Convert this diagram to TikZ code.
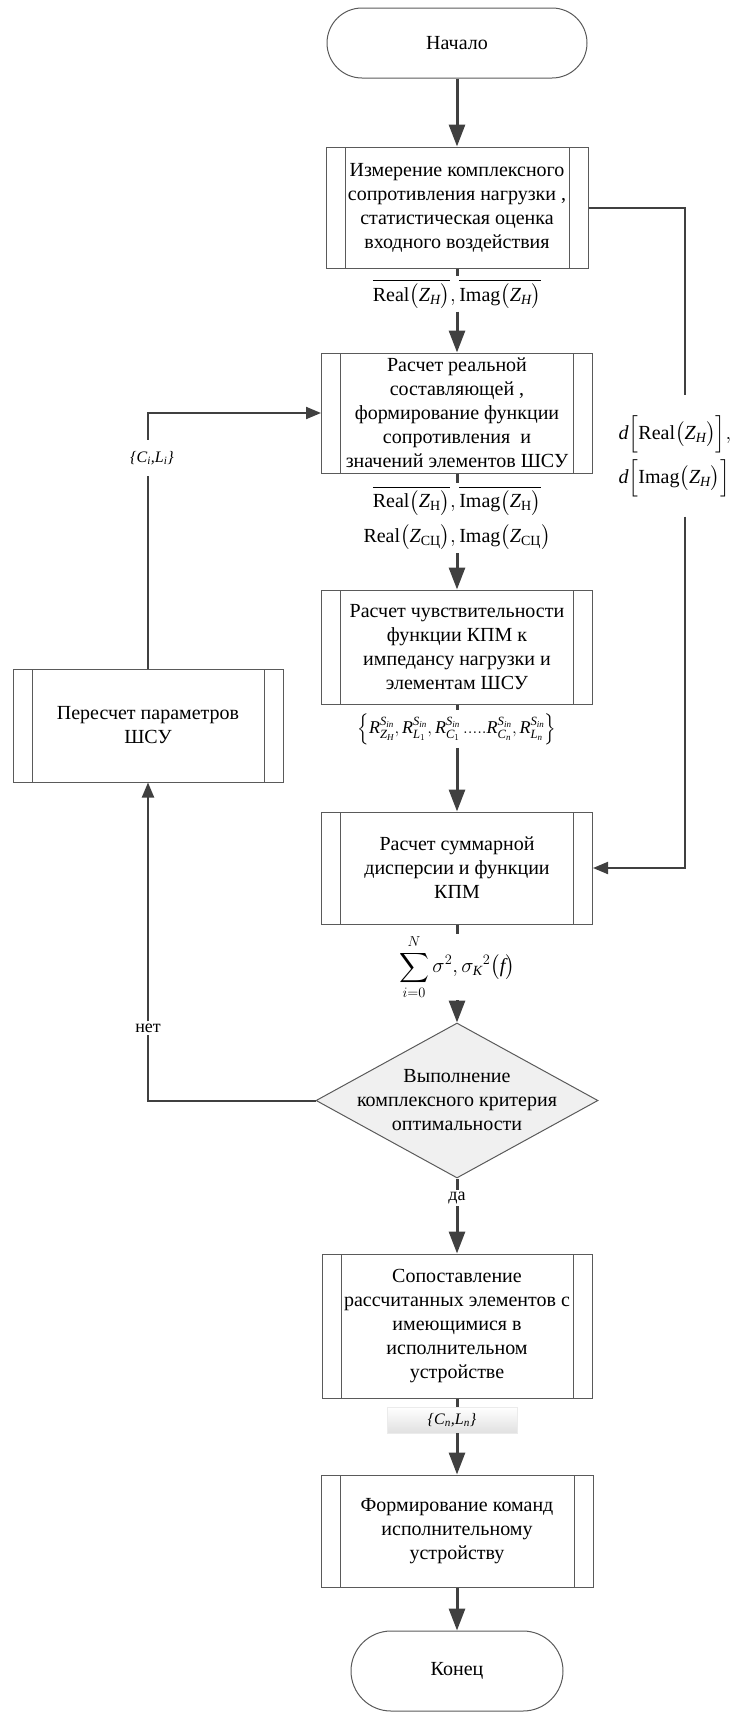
\documentclass[tikz,border=0pt]{standalone}
\usepackage{amsmath}
\usepackage{fontspec}
\setmainfont{Liberation Serif}
\usetikzlibrary{arrows.meta,shapes.geometric,calc}
\definecolor{lc}{HTML}{404040}
\definecolor{bc}{HTML}{5A5A5A}
\tikzset{
  every node/.style={font=\fontsize{20}{24}\selectfont},
  proc/.style={draw=bc, line width=1pt, rectangle, inner sep=0pt, align=center,
    path picture={
      \draw[bc, line width=1pt] ([xshift=19pt]path picture bounding box.north west) -- ([xshift=19pt]path picture bounding box.south west);
      \draw[bc, line width=1pt] ([xshift=-19pt]path picture bounding box.north east) -- ([xshift=-19pt]path picture bounding box.south east);}},
  term/.style={draw=bc, line width=1pt, rectangle, align=center, inner sep=0pt},
  dia/.style={draw=bc, line width=1pt, diamond, fill=black!6, inner sep=0pt},
  flow/.style={draw=lc, line width=3pt, -{Triangle[length=22pt,width=16pt]}},
  flowline/.style={draw=lc, line width=3pt},
  loopline/.style={draw=lc, line width=2pt},
  looparrow/.style={draw=lc, line width=2pt, -{Triangle[length=15pt,width=12pt]}},
  lab/.style={inner sep=3pt, align=center},
  small/.style={font=\fontsize{16}{19}\selectfont},
  mid/.style={font=\fontsize{18}{21}\selectfont},
  yesno/.style={font=\fontsize{18}{21}\selectfont, inner sep=2pt},
}
\begin{document}
\begin{tikzpicture}[x=1pt,y=-1pt]
\useasboundingbox (0,0) rectangle (744,1713);

% main nodes
\node[term, rounded corners=35pt, minimum width=260pt, minimum height=70pt] (start) at (457,43) {Начало};
\node[proc, minimum width=262pt, minimum height=121pt] (b1) at (457,207.5)
  {Измерение комплексного\\сопротивления нагрузки ,\\статистическая оценка\\входного воздействия};
\node[proc, minimum width=271pt, minimum height=120pt] (b2) at (457,413)
  {Расчет реальной\\составляющей ,\\формирование функции\\сопротивления~ и\\значений элементов ШСУ};
\node[proc, minimum width=271pt, minimum height=114pt] (b3) at (457,647)
  {Расчет чувствительности\\функции КПМ к\\импедансу нагрузки и\\элементам ШСУ};
\node[proc, minimum width=270pt, minimum height=113pt] (pb) at (148,725.5)
  {Пересчет параметров\\ШСУ};
\node[proc, minimum width=271pt, minimum height=112pt] (b4) at (457,868)
  {Расчет суммарной\\дисперсии и функции\\КПМ};
\node[dia, minimum width=282pt, minimum height=155pt,
      label={[align=center]center:Выполнение\\комплексного критерия\\оптимальности}] (dec) at (457,1100.5) {};
\node[proc, minimum width=270pt, minimum height=144pt] (b5) at (457,1326)
  {Сопоставление\\рассчитанных элементов с\\имеющимися в\\исполнительном\\устройстве};
\node[proc, minimum width=272pt, minimum height=112pt] (b6) at (457,1531)
  {Формирование команд\\исполнительному\\устройству};
\node[term, rounded corners=40pt, minimum width=212pt, minimum height=80pt] (end) at (457,1671) {Конец};

% labels on the main flow
\node[lab] (l1) at (457,294)
  {$\overline{\mathrm{Real}\bigl(\mathit{Z}_{\mathit{H}}\bigr)},\overline{\mathrm{Imag}\bigl(\mathit{Z}_{\mathit{H}}\bigr)}$};
\node[lab] (l2) at (457,518)
  {$\overline{\mathrm{Real}\bigl(\mathit{Z}_{\text{Н}}\bigr)},\overline{\mathrm{Imag}\bigl(\mathit{Z}_{\text{Н}}\bigr)}$\\[9pt]
   $\mathrm{Real}\bigl(\mathit{Z}_{\text{СЦ}}\bigr),\mathrm{Imag}\bigl(\mathit{Z}_{\text{СЦ}}\bigr)$};
\node[lab, mid] (l3) at (457,729)
  {$\Bigl\{\mathit{R}^{\mathit{S}_{\mathit{in}}}_{\mathit{Z}_{\mathit{H}}},\mathit{R}^{\mathit{S}_{\mathit{in}}}_{\mathit{L}_{1}},\mathit{R}^{\mathit{S}_{\mathit{in}}}_{\mathit{C}_{1}}\,.....\mathit{R}^{\mathit{S}_{\mathit{in}}}_{\mathit{C}_{\mathit{n}}},\mathit{R}^{\mathit{S}_{\mathit{in}}}_{\mathit{L}_{\mathit{n}}}\Bigr\}$};
\node[lab, inner sep=1pt] (l4) at (457,967)
  {$\displaystyle\sum_{i=0}^{N}\sigma^{2},\sigma_{\mathit{K}}{}^{2}\bigl(\mathit{f}\bigr)$};
\node[yesno] (da) at (457,1198) {да};
\node[small, minimum width=130pt, minimum height=26pt, inner sep=0pt,
      top color=white, bottom color=black!12, draw=black!8] (cn) at (452,1420)
  {\textit{\{C\textsubscript{n},L\textsubscript{n}\}}};

% side labels
\node[align=left, inner sep=0pt, minimum height=121pt] (dl) at (675,456)
  {$\mathit{d}\Bigl[\mathrm{Real}\bigl(\mathit{Z}_{\mathit{H}}\bigr)\Bigr],$\\[6pt]
   $\mathit{d}\Bigl[\mathrm{Imag}\bigl(\mathit{Z}_{\mathit{H}}\bigr)\Bigr]$};
\node[small, inner sep=0pt, minimum height=36pt] (ci) at (152,458)
  {\textit{\{C\textsubscript{i},L\textsubscript{i}\}}};
\node[yesno] (net) at (148,1028) {нет};

% coordinates for loops
\coordinate (r1) at (685,207.5);
\coordinate (r2) at (685,868);
\coordinate (nL) at (148,1100.5);
\coordinate (cL) at (148,413);

% main flow
\draw[flow] (start) -- (b1);
\draw[flowline] (b1) -- (l1);
\draw[flow] (l1) -- (b2);
\draw[flowline] (b2) -- (l2);
\draw[flow] (l2) -- (b3);
\draw[flowline] (b3) -- (l3);
\draw[flow] (l3) -- (b4);
\draw[flowline] (b4) -- (l4);
\draw[flow] (l4) -- (dec);
\draw[flowline] (dec) -- (da);
\draw[flow] (da) -- (b5);
\draw[flowline] (b5) -- (b5.south |- cn.north);
\draw[flow] (b6.north |- cn.south) -- (b6);
\draw[flow] (b6) -- (end);

% right loop
\draw[loopline] (b1.east) -- (r1) -- (r1 |- dl.north);
\draw[looparrow] (r1 |- dl.south) -- (r2) -- (b4.east);

% left loop
\draw[loopline] (dec.west) -- (nL) -- (net);
\draw[looparrow] (net) -- (pb.south);
\draw[loopline] (pb.north) -- (pb.north |- ci.south);
\draw[looparrow] (pb.north |- ci.north) -- (cL) -- (b2.west);
\end{tikzpicture}
\end{document}
